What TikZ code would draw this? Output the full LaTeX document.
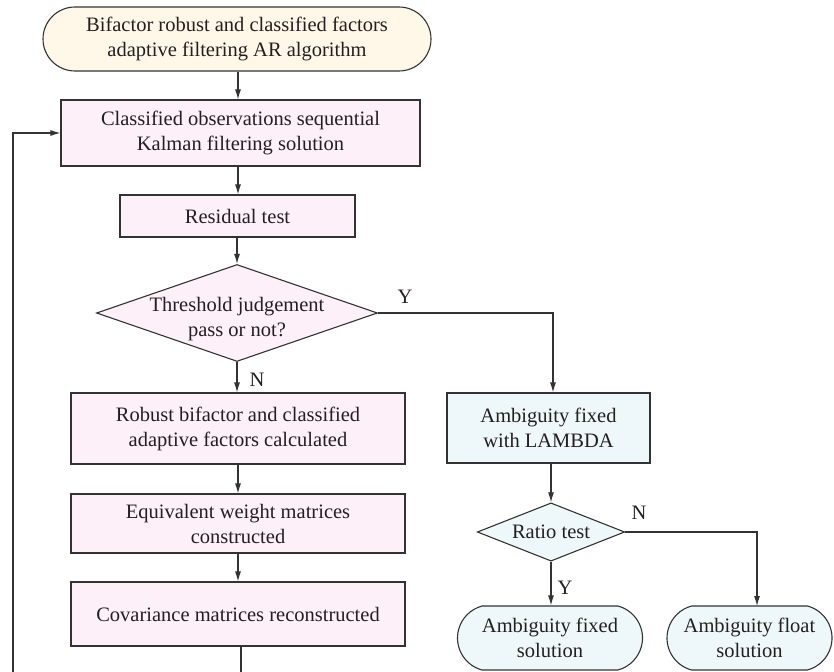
\documentclass[tikz,border=0pt]{standalone}
\usepackage{fontspec}
\setmainfont{Liberation Serif}
\usetikzlibrary{arrows.meta, positioning, shapes.geometric, shapes.misc}

\definecolor{startfill}{HTML}{FFF8E8}
\definecolor{pinkfill}{HTML}{FEF0F8}
\definecolor{bluefill}{HTML}{EEF8FB}
\definecolor{linecol}{HTML}{333333}
\definecolor{textcol}{HTML}{231F20}

\begin{document}
\begin{tikzpicture}[x=1pt, y=-1pt, >={Latex[length=10pt,width=6pt]},
    line width=1.1pt, draw=linecol, text=textcol,
    font=\fontsize{20.5}{25}\selectfont,
    procbox/.style={rectangle, draw=linecol, fill=pinkfill, align=center, inner sep=0pt},
    lambdabox/.style={procbox, fill=bluefill},
    decision/.style={diamond, draw=linecol, fill=pinkfill, align=center},
    terminal/.style={rounded rectangle, rounded rectangle arc length=150,
      draw=linecol, fill=bluefill, align=center, inner sep=0pt}]
    \useasboundingbox (0,0) rectangle (834,671);

    % --- Left column ---
    \node[terminal, fill=startfill, rounded rectangle arc length=180,
      minimum width=388, minimum height=64] (start) at (237,39)
      {Bifactor robust and classified factors\\adaptive filtering AR algorithm};
    \node[procbox, minimum width=359, minimum height=66] (kalman) at (240.5,133)
      {Classified observations sequential\\Kalman filtering solution};
    \node[procbox, minimum width=235, minimum height=42] (resid) at (237.5,216)
      {Residual test};
    \node[decision, shape aspect=2.9, inner sep=0pt,
      minimum width=281, minimum height=97] (thresh) at (237,313) {};
    \node[align=center, inner sep=0pt] (threshtext) at (237,319)
      {Threshold judgement\\pass or not?};
    \node[procbox, minimum width=334, minimum height=71] (robust) at (238,428.5)
      {Robust bifactor and classified\\adaptive factors calculated};
    \node[procbox, minimum width=334, minimum height=59] (equiv) at (238,523.5)
      {Equivalent weight matrices\\constructed};
    \node[procbox, minimum width=334, minimum height=64] (cov) at (238,614)
      {Covariance matrices reconstructed};

    % --- Right column ---
    \node[lambdabox, minimum width=203, minimum height=70] (lambda) at (548.5,428)
      {Ambiguity fixed\\with LAMBDA};
    \node[decision, fill=bluefill, shape aspect=2.53, inner sep=4.9pt] (ratio) at (551,532)
      {Ratio test};
    \node[terminal, minimum width=185, minimum height=64] (fixed) at (550,638)
      {Ambiguity fixed\\solution};
    \node[terminal, minimum width=165, minimum height=64] (float) at (749.5,638)
      {Ambiguity float\\solution};

    % --- Branch labels ---
    \node (ythresh) at (405,297) {Y};
    \node (nthresh) at (257,380) {N};
    \node (nratio) at (639,513) {N};
    \node (yratio) at (565,588) {Y};

    % --- Connectors ---
    \coordinate (floatin) at (757,606);
    \coordinate (loopcorner) at (13,700);
    \draw[->] (start.south -| 238,0) -- (kalman.north -| 238,0);
    \draw[->] (kalman.south -| 238,0) -- (resid.north -| 238,0);
    \draw[->] (resid.south -| 237,0) -- (thresh.north);
    \draw[->] (thresh.south) -- (robust.north -| thresh.south);
    \draw[->] (thresh.east) -| (lambda.north -| 553,0);
    \draw[->] (robust) -- (equiv);
    \draw[->] (equiv) -- (cov);
    \draw[->] (cov.south -| 241,0) |- (loopcorner) |- (kalman.west);
    \draw[->] (lambda.south -| 551,0) -- (ratio.north);
    \draw[->] (ratio.south) -- (fixed.north -| ratio.south);
    \draw[->] (ratio.east) -| (floatin);
\end{tikzpicture}
\end{document}
